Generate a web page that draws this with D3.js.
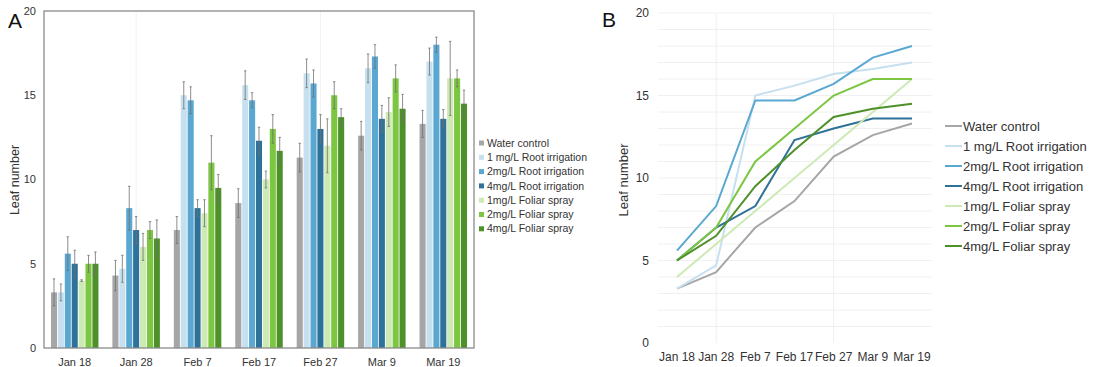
<!DOCTYPE html>
<html>
<head>
<meta charset="utf-8">
<script src="https://cdn.jsdelivr.net/npm/d3@7"></script>
<style>
  body { margin: 0; background: #fff; }
  svg { font-family: "Liberation Sans", Arial, sans-serif; }
</style>
</head>
<body>
<svg id="chart" width="1094" height="367"></svg>
<script>
// sampling dates
const dates = ['Jan 18', 'Jan 28', 'Feb 7', 'Feb 17', 'Feb 27', 'Mar 9', 'Mar 19'];
const seriesNames = ['Water control', '1 mg/L Root irrigation', '2mg/L Root irrigation', '4mg/L Root irrigation',
  '1mg/L Foliar spray', '2mg/L Foliar spray', '4mg/L Foliar spray'];
const yTicks = [0, 5, 10, 15, 20];

// mean leaf number
const water   = [3.3, 4.3, 7.0, 8.6, 11.3, 12.6, 13.3];
const root1   = [3.3, 4.7, 15.0, 15.6, 16.3, 16.6, 17.0];
const root2   = [5.6, 8.3, 14.7, 14.7, 15.7, 17.3, 18.0];
const root4   = [5.0, 7.0, 8.3, 12.3, 13.0, 13.6, 13.6];
const foliar1 = [4.0, 6.0, 8.0, 10.0, 12.0, 14.0, 16.0];
const foliar2 = [5.0, 7.0, 11.0, 13.0, 15.0, 16.0, 16.0];
const foliar4 = [5.0, 6.5, 9.5, 11.7, 13.7, 14.2, 14.5];

// error (+/-)
const waterErr   = [0.8, 0.9, 0.8, 0.85, 0.85, 0.85, 0.8];
const root1Err   = [0.5, 0.8, 0.8, 0.85, 0.85, 0.85, 0.8];
const root2Err   = [1.0, 1.3, 0.8, 0.45, 0.8, 0.7, 0.45];
const root4Err   = [0.8, 0.8, 0.5, 0.8, 0.85, 0.8, 0.55];
const foliar1Err = [0.05, 0.8, 0.8, 0.5, 1.6, 0.85, 2.2];
const foliar2Err = [0.5, 0.5, 1.6, 0.85, 0.8, 0.8, 0.5];
const foliar4Err = [0.7, 1.1, 0.8, 0.8, 0.5, 0.85, 0.8];

const colors = ['#a6a6a6', '#c6e0f0', '#5aa8d2', '#2f7299', '#cdeab5', '#7cc642', '#4e902a'];

const means = [water, root1, root2, root4, foliar1, foliar2, foliar4];
const errs = [waterErr, root1Err, root2Err, root4Err, foliar1Err, foliar2Err, foliar4Err];

const series = seriesNames.map((name, i) => ({
  name, color: colors[i],
  values: dates.map((d, j) => ({ date: d, value: means[i][j], err: errs[i][j] }))
}));

const svg = d3.select('#chart');

// ---------- panel A : grouped bars ----------
const A = { left: 44, right: 474, top: 11, bottom: 348 };
const x0 = d3.scaleBand().domain(dates).range([A.left, A.right]).paddingInner(0.2).paddingOuter(0.1);
const x1 = d3.scaleBand().domain(seriesNames).range([0, x0.bandwidth()]).padding(0.12);
const yA = d3.scaleLinear().domain([0, 20]).range([A.bottom, A.top]);

const gA = svg.append('g');

// faint vertical guides
gA.selectAll('line.vg').data([dates[1], dates[4]]).enter().append('line')
  .attr('x1', d => x0(d) + x0.bandwidth() / 2).attr('x2', d => x0(d) + x0.bandwidth() / 2)
  .attr('y1', A.top).attr('y2', A.bottom)
  .attr('stroke', '#f2f2f2').attr('stroke-width', 1);

const groups = gA.selectAll('g.grp').data(series).enter().append('g');
groups.selectAll('rect').data(s => s.values.map(v => ({ ...v, name: s.name, color: s.color })))
  .enter().append('rect')
  .attr('x', d => x0(d.date) + x1(d.name))
  .attr('width', x1.bandwidth())
  .attr('y', d => yA(d.value))
  .attr('height', d => yA(0) - yA(d.value))
  .attr('fill', d => d.color);

// error bars
const eb = groups.selectAll('g.eb').data(s => s.values.map(v => ({ ...v, name: s.name })))
  .enter().append('g')
  .attr('stroke', '#707070').attr('stroke-width', 0.8);
eb.each(function (d) {
  const cx = x0(d.date) + x1(d.name) + x1.bandwidth() / 2;
  const g = d3.select(this);
  g.append('line').attr('x1', cx).attr('x2', cx).attr('y1', yA(d.value + d.err)).attr('y2', yA(d.value - d.err));
  g.append('line').attr('x1', cx - 1.2).attr('x2', cx + 1.2).attr('y1', yA(d.value + d.err)).attr('y2', yA(d.value + d.err));
  g.append('line').attr('x1', cx - 1.2).attr('x2', cx + 1.2).attr('y1', yA(d.value - d.err)).attr('y2', yA(d.value - d.err));
});

// frame
gA.append('rect')
  .attr('x', A.left).attr('y', A.top)
  .attr('width', A.right - A.left).attr('height', A.bottom - A.top)
  .attr('fill', 'none').attr('stroke', '#8a8a8a').attr('stroke-width', 1.3);

// y ticks
gA.selectAll('text.yt').data(yTicks).enter().append('text')
  .attr('x', 36).attr('y', d => yA(d)).attr('dy', '0.35em')
  .attr('text-anchor', 'end').attr('font-size', 11).attr('fill', '#333')
  .text(d => d);

// x labels
gA.selectAll('text.xt').data(dates).enter().append('text')
  .attr('x', d => x0(d) + x0.bandwidth() / 2).attr('y', 362).attr('dy', '0.35em')
  .attr('text-anchor', 'middle').attr('font-size', 11).attr('fill', '#333')
  .text(d => d);

gA.append('text').attr('transform', 'translate(19,180) rotate(-90)')
  .attr('text-anchor', 'middle').attr('font-size', 12.5).attr('fill', '#333')
  .text('Leaf number');

svg.append('text').attr('x', 8).attr('y', 28).attr('font-size', 21).attr('fill', '#111').text('A');

// legend A
const legA = gA.selectAll('g.legA').data(series).enter().append('g')
  .attr('transform', (d, i) => `translate(479, ${143 + i * 14.3})`);
legA.append('rect').attr('x', 0).attr('y', -2.5).attr('width', 5).attr('height', 5).attr('fill', d => d.color);
legA.append('text').attr('x', 8).attr('dy', '0.35em').attr('font-size', 10.5).attr('fill', '#333').text(d => d.name);

// ---------- panel B : lines ----------
const B = { left: 658, right: 932, top: 13, bottom: 343 };
const xB = d3.scalePoint().domain(dates).range([677, 912]);
const yB = d3.scaleLinear().domain([0, 20]).range([B.bottom, B.top]);

const gB = svg.append('g');
gB.selectAll('line.hg').data(d3.range(1, 21)).enter().append('line')
  .attr('x1', B.left).attr('x2', B.right)
  .attr('y1', d => yB(d)).attr('y2', d => yB(d))
  .attr('stroke', '#f0f0f0').attr('stroke-width', 1);
gB.selectAll('line.vg').data([dates[1], dates[4]]).enter().append('line')
  .attr('x1', d => xB(d)).attr('x2', d => xB(d))
  .attr('y1', B.top).attr('y2', B.bottom)
  .attr('stroke', '#efefef').attr('stroke-width', 1);

const line = d3.line().x(d => xB(d.date)).y(d => yB(d.value));
gB.selectAll('path.ln').data(series).enter().append('path')
  .attr('d', d => line(d.values))
  .attr('fill', 'none').attr('stroke', d => d.color).attr('stroke-width', 2);

gB.selectAll('text.yt').data(yTicks).enter().append('text')
  .attr('x', 649).attr('y', d => yB(d)).attr('dy', '0.35em')
  .attr('text-anchor', 'end').attr('font-size', 12).attr('fill', '#333')
  .text(d => d);

gB.selectAll('text.xt').data(dates).enter().append('text')
  .attr('x', d => xB(d)).attr('y', 357).attr('dy', '0.35em')
  .attr('text-anchor', 'middle').attr('font-size', 12).attr('fill', '#333')
  .text(d => d);

gB.append('text').attr('transform', 'translate(628,180) rotate(-90)')
  .attr('text-anchor', 'middle').attr('font-size', 13).attr('fill', '#333')
  .text('Leaf number');

svg.append('text').attr('x', 602).attr('y', 27).attr('font-size', 21).attr('fill', '#111').text('B');

const legB = gB.selectAll('g.legB').data(series).enter().append('g')
  .attr('transform', (d, i) => `translate(945, ${126 + i * 20})`);
legB.append('line').attr('x1', 0).attr('x2', 17).attr('stroke', d => d.color).attr('stroke-width', 2);
legB.append('text').attr('x', 18).attr('dy', '0.35em').attr('font-size', 13).attr('fill', '#333').text(d => d.name);
</script>
</body>
</html>
